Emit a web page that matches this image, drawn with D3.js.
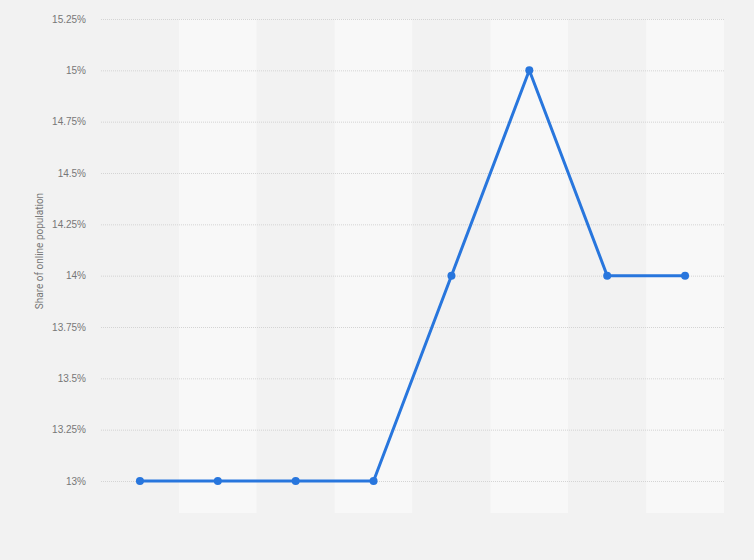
<!DOCTYPE html>
<html>
<head>
<meta charset="utf-8">
<script src="https://cdn.jsdelivr.net/npm/d3@7"></script>
<style>
  body { margin: 0; background: #f2f2f2; }
  svg { display: block; font-family: Roboto, "Noto Sans", Arial, sans-serif; }
</style>
</head>
<body>
<div id="chart"></div>
<script>
// Chart data
const categories = ["1", "2", "3", "4", "5", "6", "7", "8"];
const shares = [13, 13, 13, 13, 14, 15, 14, 14];
const yTicks = [13, 13.25, 13.5, 13.75, 14, 14.25, 14.5, 14.75, 15, 15.25];

// Layout
const width = 754;
const height = 560;
const margin = ({top: 19, right: 30, bottom: 79, left: 101});

const svg = d3.select("#chart").append("svg")
    .attr("width", width)
    .attr("height", height);

svg.append("rect")
    .attr("width", width)
    .attr("height", height)
    .attr("fill", "#f2f2f2");

// Scales
let xScale = d3.scaleBand()
    .domain(categories)
    .range([margin.left, width - margin.right])
    .padding(0);
let yScale = d3.scaleLinear()
    .domain([13, 15.25])
    .range([height - margin.bottom, margin.top]);

// Alternating column bands
svg.append("g").selectAll("rect")
    .data(categories)
    .join("rect")
    .attr("x", d => xScale(d))
    .attr("y", margin.top)
    .attr("width", xScale.bandwidth())
    .attr("height", 513 - margin.top)
    .attr("fill", (d, i) => i % 2 ? "#f8f8f8" : "#f2f2f2");

// Y axis with dotted grid lines
yAxis = g => g
    .attr("transform", `translate(${margin.left},0)`)
    .call(d3.axisLeft(yScale).tickValues(yTicks)
        .tickSize(-(width - margin.left - margin.right))
        .tickPadding(15)
        .tickFormat(d => d + "%"))
    .call(g => g.select(".domain").remove())
    .call(g => g.selectAll(".tick line")
        .attr("stroke", "#d4d4d4")
        .attr("stroke-dasharray", "1,1"))
    .call(g => g.selectAll(".tick text")
        .attr("fill", "#777")
        .attr("font-size", 10));

svg.append("g").attr("id", "y_axis").call(yAxis);

// Y axis label
svg.append("text")
    .attr("transform", "rotate(-90)")
    .attr("x", -251)
    .attr("y", 43)
    .attr("text-anchor", "middle")
    .attr("font-size", 10)
    .attr("fill", "#777")
    .text("Share of online population");

// Line and points
const cx = d => xScale(d) + xScale.bandwidth() / 2;
const line = d3.line()
    .x((d, i) => cx(categories[i]))
    .y(d => yScale(d));

svg.append("path")
    .datum(shares)
    .attr("fill", "none")
    .attr("stroke", "#2876dd")
    .attr("stroke-width", 3)
    .attr("stroke-linejoin", "round")
    .attr("d", line);

svg.append("g").selectAll("circle")
    .data(shares)
    .join("circle")
    .attr("cx", (d, i) => cx(categories[i]))
    .attr("cy", d => yScale(d))
    .attr("r", 4)
    .attr("fill", "#2876dd");
</script>
</body>
</html>
